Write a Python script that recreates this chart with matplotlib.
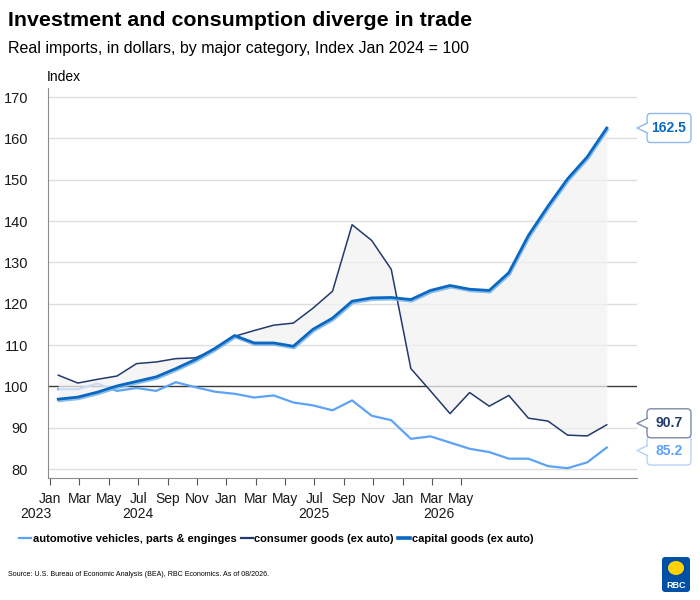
import numpy as np
import matplotlib.pyplot as plt
import matplotlib.patheffects as pe
from matplotlib.patches import FancyBboxPatch, Polygon, Ellipse
from matplotlib.lines import Line2D
from matplotlib.transforms import IdentityTransform, blended_transform_factory

plt.rcParams['font.family'] = ['Liberation Sans', 'DejaVu Sans']

# monthly points, Jan 2024 .. May 2026
auto = [99.3, 99.3, 100.7, 98.9, 99.6, 98.9, 101.0, 99.8, 98.7, 98.2,
        97.3, 97.8, 96.1, 95.4, 94.2, 96.6, 92.9, 91.8, 87.3, 87.9,
        86.4, 84.9, 84.1, 82.5, 82.5, 80.7, 80.2, 81.6, 85.2]
consumer = [102.7, 100.8, 101.7, 102.5, 105.5, 105.9, 106.7, 106.9, 108.9, 112.1,
            113.5, 114.8, 115.3, 118.9, 123.0, 139.1, 135.3, 128.3, 104.3, 98.9,
            93.4, 98.5, 95.2, 97.8, 92.3, 91.6, 88.2, 88.0, 90.7]
capital = [96.9, 97.4, 98.6, 100.1, 101.2, 102.3, 104.3, 106.5, 109.2, 112.3,
           110.5, 110.5, 109.7, 113.8, 116.5, 120.6, 121.4, 121.5, 121.0, 123.2,
           124.4, 123.5, 123.2, 127.5, 136.5, 143.6, 150.2, 155.5, 162.5]

month_labels = ['Jan', 'Mar', 'May', 'Jul', 'Sep', 'Nov'] * 2 + ['Jan', 'Mar', 'May']
year_labels = ['2023', '2024', '2025', '2026']
year_pos = [-1.15, 4.08, 13.07, 19.44]

c_auto = '#5ca3f7'
c_cons = '#223a6b'
c_cap = '#0a68c2'

x = np.arange(len(capital))

fig = plt.figure(figsize=(7, 6), dpi=100)
ax = fig.add_axes([0.0681, 0.2028, 0.8415, 0.65])

ax.set_xlim(-0.54, 29.53)
ax.set_ylim(77.75, 172.1)

for yv in range(80, 171, 10):
    if yv != 100:
        ax.axhline(yv, color='#dedede', lw=1, zorder=0)
ax.axhline(100, color='#3a3a3a', lw=1, zorder=1)

ax.plot(x, auto, color=c_auto, lw=1.6, zorder=2)
ax.fill_between(x, consumer, capital, color='#f2f2f2', alpha=0.75, lw=0, zorder=3)
ax.plot(x, consumer, color=c_cons, lw=1.1, zorder=4)
ax.plot(x, capital, color=c_cap, lw=2.0, zorder=5,
        path_effects=[pe.SimpleLineShadow(offset=(0.6, -1.2), shadow_color='#7fb6e6', alpha=0.9, rho=1),
                      pe.Normal()])

for s in ['top', 'right']:
    ax.spines[s].set_visible(False)
ax.spines['left'].set_color('#8a8a8a')
ax.spines['bottom'].set_color('#8a8a8a')

ax.set_yticks(range(80, 171, 10))
ax.tick_params(axis='y', length=0, pad=14, labelsize=10.5, labelcolor='#1a1a1a')

ticks = np.arange(len(month_labels)) * 1.5 - 0.42
ax.set_xticks(ticks)
ax.set_xticklabels(month_labels, fontsize=10)
ax.tick_params(axis='x', length=5, color='#555555', pad=5, labelcolor='#1a1a1a')

tr = blended_transform_factory(ax.transData, fig.transFigure)
for yp, yl in zip(year_pos, year_labels):
    ax.text(yp, 1 - 514 / 600, yl, transform=tr, ha='center', va='center',
            fontsize=10, color='#1a1a1a', clip_on=False)

fig.text(47 / 700, 1 - 77 / 600, 'Index', fontsize=10, va='center', ha='left')
fig.text(8 / 700, 1 - 21 / 600, 'Investment and consumption diverge in trade',
         fontsize=15.4, fontweight='bold', va='center', ha='left')
fig.text(8 / 700, 1 - 49 / 600, 'Real imports, in dollars, by major category, Index Jan 2024 = 100',
         fontsize=11.55, va='center', ha='left')
fig.text(8 / 700, 1 - 575 / 600,
         'Source: U.S. Bureau of Economic Analysis (BEA), RBC Economics. As of 08/2026.',
         fontsize=5.1, va='center', ha='left')

handles = [Line2D([], [], color=c_auto, lw=1.6),
           Line2D([], [], color=c_cons, lw=1.6),
           Line2D([], [], color=c_cap, lw=2.6)]
names = ['automotive vehicles, parts & enginges', 'consumer goods (ex auto)', 'capital goods (ex auto)']
fig.legend(handles, names, loc='center left', bbox_to_anchor=(19 / 700, 1 - 539 / 600), ncol=3,
           frameon=False, handlelength=1.1, handletextpad=0.15, columnspacing=0.35,
           borderpad=0, borderaxespad=0,
           prop={'weight': 'bold', 'size': 8.0})


def callout(val, text, tcol, ecol, dy=0.0):
    ident = IdentityTransform()
    cy = ax.transData.transform((0, val))[1] + dy
    left, right, h = 647, 691, 29
    box = FancyBboxPatch((left, cy - h / 2), right - left, h,
                         boxstyle='round,pad=0,rounding_size=4',
                         fc='white', ec=ecol, lw=1, transform=ident)
    fig.add_artist(box)
    tri = Polygon([(left + 1.2, cy - 5), (637, cy), (left + 1.2, cy + 5)],
                  closed=True, fc='white', ec='none', transform=ident)
    fig.add_artist(tri)
    fig.add_artist(Line2D([left + 0.5, 637, left + 0.5], [cy - 5, cy, cy + 5],
                          color=ecol, lw=1, transform=ident))
    fig.text((left + right) / 2 / 700, cy / 600, text, ha='center', va='center',
             fontsize=10, fontweight='bold', color=tcol)


callout(auto[-1], '85.2', c_auto, '#b5d3f7', dy=-3)
callout(consumer[-1], '90.7', c_cons, '#7d8aa5', dy=1.5)
callout(capital[-1], '162.5', c_cap, '#8dbbe8')

# simple RBC mark
ident = IdentityTransform()
fig.add_artist(FancyBboxPatch((662, 8), 28, 35, boxstyle='round,pad=0,rounding_size=3',
                              fc='#0051a5', ec='none', transform=ident))
fig.add_artist(Ellipse((676, 32), 16, 14, fc='#ffd200', ec='none', transform=ident))
fig.text(676 / 700, 15 / 600, 'RBC', ha='center', va='center', fontsize=6.5,
         fontweight='bold', color='white')

fig.savefig('out.png', dpi=100)
